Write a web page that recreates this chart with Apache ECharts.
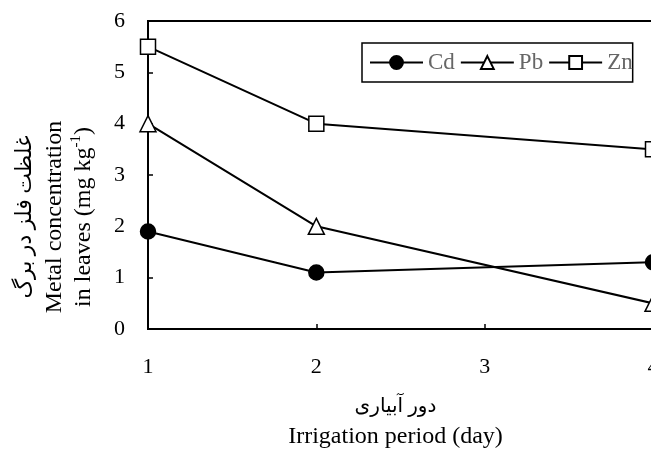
<!DOCTYPE html>
<html><head><meta charset="utf-8">
<script src="https://cdn.jsdelivr.net/npm/echarts@6/dist/echarts.min.js"></script>
<style>html,body{margin:0;padding:0;background:#fff}#c{width:651px;height:450px}</style>
</head><body><div id="c"></div>
<script>
var periods = [1, 2, 4];
var cd = [1.9, 1.1, 1.3];
var pb = [4.0, 2.0, 0.5];
var zn = [5.5, 4.0, 3.5];
var xTicks = [1, 2, 3, 4];
var yTicks = [0, 1, 2, 3, 4, 5, 6];

function pairs(v){ return periods.map(function(p,i){ return [p, v[i]]; }); }
var FONT = '"Liberation Serif", "DejaVu Serif", "DejaVu Sans", serif';
function mk(name, data, symbol, fill, size){
  return {name:name, type:'line', data:pairs(data), symbol:symbol, symbolSize:size,
    lineStyle:{color:'#000', width:2}, itemStyle:{color:fill, borderColor:'#000', borderWidth:1.5},
    clip:false, z:3};
}
var chart = echarts.init(document.getElementById('c'), null, {renderer:'canvas'});
chart.setOption({
  animation:false,
  backgroundColor:'#fff',
  grid:{left:148, top:21, width:505, height:308, outerBoundsMode:'none', containLabel:false,
    show:true, borderColor:'#000', borderWidth:2, backgroundColor:'transparent'},
  legend:{
    left:362, top:43, orient:'horizontal',
    borderColor:'#000', borderWidth:1.5, padding:[8,0,8,7],
    itemWidth:53, itemHeight:16, itemGap:5,
    textStyle:{fontFamily:FONT, fontSize:23, color:'#666'},
    data:['Cd','Pb','Zn']
  },
  xAxis:{
    type:'value', min:xTicks[0], max:xTicks[xTicks.length-1], interval:1,
    axisLine:{lineStyle:{color:'#000', width:2}},
    axisTick:{inside:true, length:5, lineStyle:{color:'#000', width:1.5}},
    axisLabel:{margin:27, fontFamily:FONT, fontSize:22, color:'#000', formatter:function(v){return xTicks.indexOf(v)>=0?String(v):'';}},
    splitLine:{show:false},
    name:'{fa|دور آبیاری}\n{en|Irrigation period (day)}',
    nameLocation:'middle', nameGap:63,
    nameTextStyle:{padding:[0,10,0,0], rich:{
      fa:{fontFamily:FONT, fontSize:20, color:'#000', lineHeight:30},
      en:{fontFamily:FONT, fontSize:24, color:'#000', lineHeight:30}
    }}
  },
  yAxis:{
    type:'value', min:yTicks[0], max:yTicks[yTicks.length-1], interval:1,
    axisLine:{show:true, lineStyle:{color:'#000', width:2}},
    axisTick:{show:true, inside:true, length:5, lineStyle:{color:'#000', width:1.5}},
    axisLabel:{margin:23, fontFamily:FONT, fontSize:22, color:'#000'},
    splitLine:{show:false},
    name:'{fa|غلظت فلز در برگ}\n{en|Metal concentration}\n{en|in leaves (mg kg}{sup|-1}{en|)}',
    nameLocation:'middle', nameRotate:90, nameGap:50,
    nameTextStyle:{padding:[0,84,0,0], rich:{
      fa:{fontFamily:FONT, fontSize:22, color:'#000', lineHeight:29},
      en:{fontFamily:FONT, fontSize:24, color:'#000', lineHeight:29},
      sup:{fontFamily:FONT, fontSize:15, color:'#000', lineHeight:29, verticalAlign:'top', padding:[0,0,10,0]}
    }}
  },
  series:[
    mk('Cd', cd, 'circle', '#000', 15),
    mk('Pb', pb, 'triangle', '#fff', 16),
    mk('Zn', zn, 'rect', '#fff', 15)
  ]
});
</script></body></html>
